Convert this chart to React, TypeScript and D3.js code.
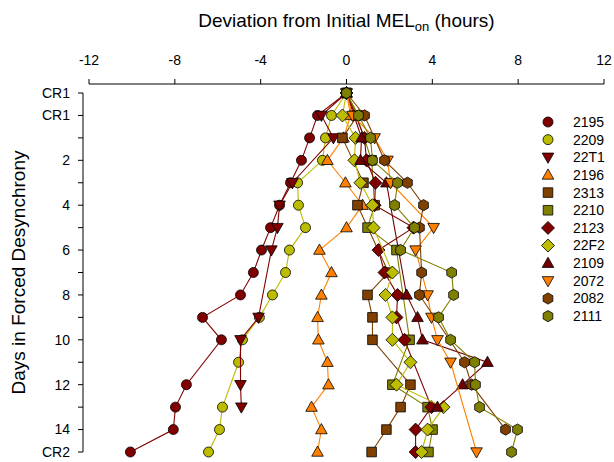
import React, { useRef, useEffect } from 'react';
import * as d3 from 'd3';

// days -1 (CR1), 0 (CR1), 1..14, 15 (CR2)
const days = [-1, 0, 1, 2, 3, 4, 5, 6, 7, 8, 9, 10, 11, 12, 13, 14, 15];
const dayLabels = ['CR1', 'CR1', '', '2', '', '4', '', '6', '', '8', '', '10', '', '12', '', '14', 'CR2'];
const xTicks = [-12, -8, -4, 0, 4, 8, 12];

type Shape = 'circle' | 'square' | 'triDown' | 'triUp' | 'diamond' | 'hex';

const names = ['2195', '2209', '22T1', '2196', '2313', '2210', '2123', '22F2', '2109', '2072', '2082', '2111'];
const colors = ['#800000', '#bcbc00', '#800000', '#ff8000', '#804000', '#808000', '#800000', '#bcbc00', '#700000', '#ff8000', '#804000', '#808000'];
const shapes: Shape[] = ['circle', 'circle', 'triDown', 'triUp', 'square', 'square', 'diamond', 'diamond', 'triUp', 'triDown', 'hex', 'hex'];

// deviation (hours) per day, null = no measurement
const s2195 = [0, -1.35, -1.72, -2.10, -2.61, -3.12, -3.54, -3.96, -4.34, -4.94, -6.71, -5.83, null, -7.46, -7.97, -8.07, -10.07];
const s2209 = [0, -0.70, -0.98, -1.12, -2.28, -2.24, -1.91, -2.66, -2.84, -3.45, -4.06, -4.85, -5.03, null, -5.78, -5.92, -6.43];
const s22T1 = [0, -1.17, -0.61, null, -2.52, -3.12, -3.22, -3.50, null, null, -4.10, -4.94, null, -4.94, -4.90, null, null];
const s2196 = [0, 0.19, -0.14, -0.89, -0.05, 0.75, 0.00, -1.26, -0.70, -1.17, -1.35, -1.31, -0.89, -0.84, -1.63, -1.17, -1.35];
const s2313 = [0, 0.51, -0.19, null, 0.79, 0.51, null, null, 1.96, 0.98, 1.21, 1.21, null, 2.98, 2.52, 1.86, 1.17];
const s2210 = [0, 0.47, null, 1.17, null, 1.31, 0.98, 2.33, null, null, null, 2.94, null, 2.14, 3.78, 4.01, 3.82];
const s2123 = [0, null, 0.84, 0.93, 1.35, 1.31, 3.12, 1.49, 1.77, 2.38, 2.33, 2.70, null, null, 3.96, 3.22, 3.22];
const s22F2 = [0, -0.19, 0.42, 0.37, 0.65, 1.21, 1.26, null, 2.14, 1.82, 2.14, 2.14, 2.98, 2.33, 4.52, 3.78, 3.50];
const s2109 = [0, null, 0.70, 0.65, 1.86, null, null, null, null, 2.80, 3.31, 3.54, 6.57, 5.41, 4.24, null, null];
const s2072 = [0, 0.28, 1.31, 1.91, 2.05, null, 4.06, 3.22, null, 3.78, 3.96, 4.24, 4.85, null, null, null, 6.06];
const s2082 = [0, 0.84, null, 1.77, 2.84, 3.59, 3.40, null, 3.50, 3.40, null, null, 5.50, 5.83, null, 7.41, null];
const s2111 = [0, 0.56, 1.12, 1.21, 2.38, 2.24, 3.17, 2.52, 4.90, 4.99, 4.29, 4.85, 5.97, 6.01, 6.20, 7.97, 7.69];

const seriesValues = [s2195, s2209, s22T1, s2196, s2313, s2210, s2123, s22F2, s2109, s2072, s2082, s2111];

const shapePath = (shape: Shape): string => {
  switch (shape) {
    case 'circle':
      return 'M5,0A5,5 0 1,1 -5,0A5,5 0 1,1 5,0Z';
    case 'square':
      return 'M-4.8,-4.8H4.8V4.8H-4.8Z';
    case 'triUp':
      return 'M0,-6L5.8,4.2H-5.8Z';
    case 'triDown':
      return 'M0,6L5.8,-4.2H-5.8Z';
    case 'diamond':
      return 'M0,-6.5L6.5,0L0,6.5L-6.5,0Z';
    case 'hex': {
      const pts = d3.range(6).map(i => {
        const a = Math.PI / 6 + (i * Math.PI) / 3;
        return [5.6 * Math.cos(a), 5.6 * Math.sin(a)];
      });
      return 'M' + pts.map(p => p.join(',')).join('L') + 'Z';
    }
  }
};

const App: React.FC = () => {
  const svgRef = useRef<SVGSVGElement>(null);
  const width = 614;
  const height = 462;

  useEffect(() => {
    if (!svgRef.current) return;
    const svg = d3.select(svgRef.current);
    svg.selectAll('*').remove();

    const font = '"Liberation Sans", Arial, Helvetica, sans-serif';

    const x = d3.scaleLinear().domain([-12, 12]).range([89, 604]);
    const y = d3.scaleLinear().domain([-1, 15]).range([93, 452]);
    const axisY = 84;
    const axisX = 83;

    // top x axis
    const gx = svg.append('g');
    gx.append('line')
      .attr('x1', x(-12)).attr('x2', x(12))
      .attr('y1', axisY).attr('y2', axisY)
      .attr('stroke', '#000').attr('stroke-width', 1);
    xTicks.forEach(t => {
      gx.append('line')
        .attr('x1', x(t)).attr('x2', x(t))
        .attr('y1', axisY).attr('y2', axisY - 5)
        .attr('stroke', '#000');
      gx.append('text')
        .attr('x', x(t)).attr('y', 65)
        .attr('text-anchor', 'middle')
        .style('font-family', font).style('font-size', '14px')
        .text(String(t));
    });

    // title with subscript
    const title = svg.append('text')
      .attr('x', x(0)).attr('y', 27)
      .attr('text-anchor', 'middle')
      .style('font-family', font).style('font-size', '19px');
    title.append('tspan').text('Deviation from Initial MEL');
    title.append('tspan').attr('dy', 4).style('font-size', '13px').text('on');
    title.append('tspan').attr('dy', -4).text(' (hours)');

    // left y axis
    const gy = svg.append('g');
    gy.append('line')
      .attr('x1', axisX).attr('x2', axisX)
      .attr('y1', y(-1)).attr('y2', y(15))
      .attr('stroke', '#000');
    days.forEach((d, i) => {
      gy.append('line')
        .attr('x1', axisX).attr('x2', axisX - 5)
        .attr('y1', y(d)).attr('y2', y(d))
        .attr('stroke', '#000');
      if (dayLabels[i]) {
        gy.append('text')
          .attr('x', 70).attr('y', y(d))
          .attr('dy', '0.35em')
          .attr('text-anchor', 'end')
          .style('font-family', font).style('font-size', '14px')
          .text(dayLabels[i]);
      }
    });

    svg.append('text')
      .attr('transform', `translate(25,${(y(-1) + y(15)) / 2}) rotate(-90)`)
      .attr('text-anchor', 'middle')
      .style('font-family', font).style('font-size', '19px')
      .text('Days in Forced Desynchrony');

    // series
    const line = d3.line<[number, number]>()
      .x(p => x(p[0]))
      .y(p => y(p[1]));

    seriesValues.forEach((vals, si) => {
      const pts: [number, number][] = [];
      vals.forEach((v, i) => {
        if (v !== null) pts.push([v, days[i]]);
      });
      const g = svg.append('g');
      g.append('path')
        .attr('d', line(pts))
        .attr('fill', 'none')
        .attr('stroke', colors[si])
        .attr('stroke-width', 1.1);
      g.selectAll('path.pt')
        .data(pts)
        .enter().append('path')
        .attr('class', 'pt')
        .attr('d', shapePath(shapes[si]))
        .attr('transform', p => `translate(${x(p[0])},${y(p[1])})`)
        .attr('fill', colors[si])
        .attr('stroke', '#000')
        .attr('stroke-width', 0.8);
    });

    // legend
    const lg = svg.append('g');
    names.forEach((n, i) => {
      const ly = 122 + i * 17.65;
      lg.append('path')
        .attr('d', shapePath(shapes[i]))
        .attr('transform', `translate(548,${ly})`)
        .attr('fill', colors[i])
        .attr('stroke', '#000')
        .attr('stroke-width', 0.8);
      lg.append('text')
        .attr('x', 573).attr('y', ly)
        .attr('dy', '0.35em')
        .style('font-family', font).style('font-size', '14px')
        .text(n);
    });
  }, []);

  return (
    <svg
      ref={svgRef}
      width={width}
      height={height}
      style={{ position: 'absolute', left: 0, top: 0, background: '#fff' }}
    ></svg>
  );
};

export default App;
